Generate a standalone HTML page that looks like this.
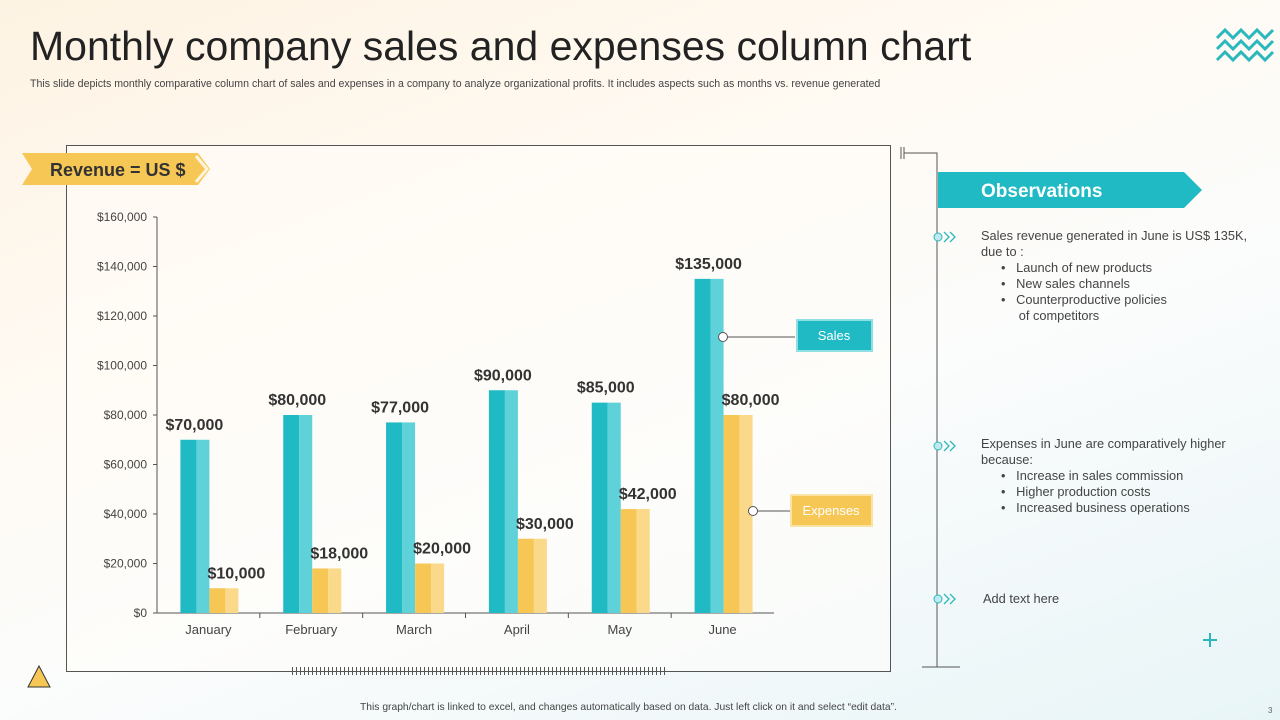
<!DOCTYPE html>
<html><head><meta charset="utf-8"><style>
body{margin:0;width:1280px;height:720px;overflow:hidden;font-family:"Liberation Sans",sans-serif;}
#bg{position:absolute;left:0;top:0;width:1280px;height:720px;background:linear-gradient(160deg,#fdf3e3 0%,#fffaf3 35%,#fbfcfc 60%,#e8f5f7 100%);}
.abs{position:absolute;}
</style></head><body>
<div id="bg"></div>
<div class="abs" style="left:30px;top:23px;font-size:41px;color:#222;">Monthly company sales and expenses column chart</div>
<div class="abs" style="left:30px;top:78px;font-size:10.6px;color:#444;white-space:nowrap;">This slide depicts monthly comparative column chart of sales and expenses in a company to analyze organizational profits. It includes aspects such as months vs. revenue generated</div>
<svg class="abs" style="left:1214px;top:25px" width="66" height="40">
<g fill="none" stroke="#2bb8bd" stroke-width="3"><polyline points="3,13 11,5 19,13 27,5 35,13 43,5 51,13 59,5"/><polyline points="3,24 11,16 19,24 27,16 35,24 43,16 51,24 59,16"/><polyline points="3,35 11,27 19,35 27,27 35,35 43,27 51,35 59,27"/></g></svg>
<svg class="abs" style="left:0;top:0" width="1280" height="720" id="chart">
<rect x="66.5" y="145.5" width="824" height="526" fill="#fffdfa" fill-opacity="0.5" stroke="#555" stroke-width="1"/>
<polygon points="22,153 198,153 210,169 198,185 22,185 32,169" fill="#f7c756"/>
<polyline points="196,156 207,169 196,182" fill="none" stroke="#fff" stroke-width="3" opacity="0.8"/>
<text x="50" y="176" font-size="18" font-weight="bold" fill="#333">Revenue = US $</text>
<line x1="292" y1="671" x2="666" y2="671" stroke="#555" stroke-width="8" stroke-dasharray="1,3"/>
<g id="ticks"></g><g id="bars"></g>
<line x1="718" y1="337" x2="795" y2="337" stroke="#555"/><circle cx="723" cy="337" r="4.5" fill="#fff" stroke="#555"/>
<rect x="797" y="320" width="75" height="31" fill="#1fbac4" stroke="#8ee0e5" stroke-width="2"/>
<text x="834" y="340" font-size="13" fill="#fff" text-anchor="middle">Sales</text>
<line x1="748" y1="511" x2="790" y2="511" stroke="#555"/><circle cx="753" cy="511" r="4.5" fill="#fff" stroke="#555"/>
<rect x="791" y="495" width="81" height="31" fill="#f7c756" stroke="#fbe3a6" stroke-width="2"/>
<text x="831" y="515" font-size="13" fill="#fff" text-anchor="middle">Expenses</text>
<line x1="901" y1="147" x2="901" y2="159" stroke="#555"/><line x1="904" y1="147" x2="904" y2="159" stroke="#555"/>
<polyline points="904,153 937,153 937,667" fill="none" stroke="#555"/>
<line x1="922" y1="667" x2="960" y2="667" stroke="#555"/>
<polygon points="938,172 1184,172 1202,190 1184,208 938,208" fill="#1fbac4"/>
<text x="981" y="197" font-size="19" font-weight="bold" fill="#fff">Observations</text>
<g fill="#bfe9ee" stroke="#2bb8bd" stroke-width="1">
<circle cx="938" cy="237" r="4"/><circle cx="938" cy="446" r="4"/><circle cx="938" cy="599" r="4"/></g>
<g fill="none" stroke="#2bb8bd" stroke-width="1.3">
<polyline points="944,232 949,237 944,242"/><polyline points="950,232 955,237 950,242"/>
<polyline points="944,441 949,446 944,451"/><polyline points="950,441 955,446 950,451"/>
<polyline points="944,594 949,599 944,604"/><polyline points="950,594 955,599 950,604"/></g>
<g stroke="#2bb8bd" stroke-width="2"><line x1="1203" y1="640" x2="1217" y2="640"/><line x1="1210" y1="633" x2="1210" y2="647"/></g>
<polygon points="39,666 50,687 28,687" fill="#f7c756" stroke="#333"/>
</svg>
<div class="abs" style="left:981px;top:228px;font-size:12.8px;color:#444;line-height:16px;width:285px;">Sales revenue generated in June is US$ 135K, due to :<div style="padding-left:20px">•&nbsp;&nbsp;&nbsp;Launch of new products<br>•&nbsp;&nbsp;&nbsp;New sales channels<br>•&nbsp;&nbsp;&nbsp;Counterproductive policies<br>&nbsp;&nbsp;&nbsp;&nbsp;&nbsp;of competitors</div></div>
<div class="abs" style="left:981px;top:436px;font-size:12.8px;color:#444;line-height:16px;width:270px;">Expenses in June are comparatively higher because:<div style="padding-left:20px">•&nbsp;&nbsp;&nbsp;Increase in sales commission<br>•&nbsp;&nbsp;&nbsp;Higher production costs<br>•&nbsp;&nbsp;&nbsp;Increased business operations</div></div>
<div class="abs" style="left:983px;top:591px;font-size:12.8px;color:#444;">Add text here</div>
<div class="abs" style="left:360px;top:702px;font-size:10.3px;color:#444;white-space:nowrap;">This graph/chart is linked to excel, and changes automatically based on data. Just left click on it and select “edit data”.</div>
<div class="abs" style="left:1268px;top:706px;font-size:8px;color:#666;">3</div>
<script>
const months=["January","February","March","April","May","June"];
const sales=[70000,80000,77000,90000,85000,135000];
const expenses=[10000,18000,20000,30000,42000,80000];
const yTicks=[0,20000,40000,60000,80000,100000,120000,140000,160000];
const NS="http://www.w3.org/2000/svg";
const x0=157,x1=774,yB=613,yT=217,yMax=160000;
const band=(x1-x0)/months.length;
const y=v=>yB-(v/yMax)*(yB-yT);
const cx=i=>x0+band*(i+0.5);
const fmt=v=>"$"+v.toLocaleString("en-US");
function mk(tag,attrs,parent,txt){const e=document.createElementNS(NS,tag);for(const k in attrs)e.setAttribute(k,attrs[k]);if(txt!==undefined)e.textContent=txt;parent.appendChild(e);return e;}
const tk=document.getElementById("ticks"),bg=document.getElementById("bars");
mk("line",{x1:x0,y1:yT,x2:x0,y2:yB,stroke:"#555"},tk);
mk("line",{x1:x0,y1:yB,x2:x1,y2:yB,stroke:"#555"},tk);
yTicks.forEach(v=>{mk("line",{x1:x0-4,y1:y(v),x2:x0,y2:y(v),stroke:"#555"},tk);
const t=mk("text",{x:x0-10,y:y(v)+4,"font-size":12,fill:"#444","text-anchor":"end"},tk,fmt(v));

});
for(let i=1;i<months.length;i++)mk("line",{x1:x0+band*i,y1:yB,x2:x0+band*i,y2:yB+5,stroke:"#555"},tk);
months.forEach((m,i)=>{
const t=mk("text",{x:cx(i),y:yB+21,"font-size":13,fill:"#444","text-anchor":"middle"},tk,m);


const c=cx(i);
const s=mk("g",{},bg);


mk("rect",{x:c-28,y:y(sales[i]),width:16,height:yB-y(sales[i]),fill:"#1fbac4"},s);
mk("rect",{x:c-12,y:y(sales[i]),width:13,height:yB-y(sales[i]),fill:"#5ed2d8"},s);
const e=mk("g",{},bg);


mk("rect",{x:c+1,y:y(expenses[i]),width:16,height:yB-y(expenses[i]),fill:"#f7c756"},e);
mk("rect",{x:c+17,y:y(expenses[i]),width:13,height:yB-y(expenses[i]),fill:"#fbd98a"},e);
const sl=mk("text",{x:c-14,y:y(sales[i])-10,"font-size":16,"font-weight":"bold",fill:"#333","text-anchor":"middle"},bg,fmt(sales[i]));


const el=mk("text",{x:c+28,y:y(expenses[i])-10,"font-size":16,"font-weight":"bold",fill:"#333","text-anchor":"middle"},bg,fmt(expenses[i]));


});
</script>
</body></html>
